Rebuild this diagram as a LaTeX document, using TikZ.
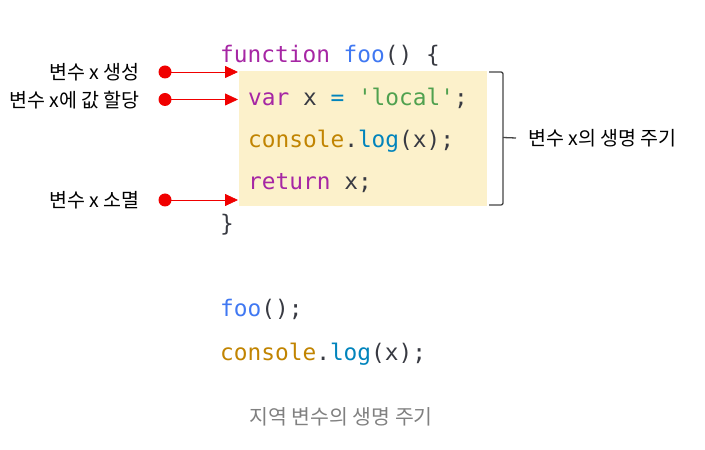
\documentclass[tikz,border=0pt]{standalone}
\usepackage{fontspec}
\newfontfamily\codefont{DejaVu Sans Mono}
\newfontfamily\kr{Noto Sans CJK KR}
\usetikzlibrary{arrows.meta}
\definecolor{kw}{HTML}{A626A4}
\definecolor{fn}{HTML}{4078F2}
\definecolor{obj}{HTML}{C18401}
\definecolor{meth}{HTML}{0184BC}
\definecolor{str}{HTML}{50A14F}
\definecolor{punc}{HTML}{383A42}
\definecolor{boxfill}{HTML}{FCF1CB}
\definecolor{arrowred}{HTML}{F00000}
\definecolor{bracegray}{HTML}{454545}
\definecolor{captiongray}{HTML}{808080}
\begin{document}
\begin{tikzpicture}[x=1bp,y=-1bp,
  codeline/.style={anchor=base west, inner sep=0pt, text=punc,
    font=\codefont\fontsize{22.8bp}{27bp}\selectfont},
  sidelabel/.style={anchor=east, inner sep=0pt, text=black,
    font=\kr\fontsize{19.5bp}{22bp}\selectfont},
  reddot/.style={circle, fill=arrowred, inner sep=0pt, minimum size=13bp},
  redarrow/.style={draw=arrowred, line width=0.8bp, -{Triangle[length=13bp,width=12bp]}},
  lifebrace/.style={draw=bracegray, line width=1.3bp, rounded corners=2bp},
]
\useasboundingbox (0,0) rectangle (705,450);

% scope box
\node[fill=boxfill, inner sep=0pt, minimum width=248bp, minimum height=134.5bp,
  anchor=north west] (scopebox) at (239,71) {};

% code
\node[codeline] (l1) at (220,63) {\textcolor{kw}{function} \textcolor{fn}{foo}() \{};
\node[codeline] (l2) at (248,106) {\textcolor{kw}{var} x \textcolor{meth}{=} \textcolor{str}{'local'};};
\node[codeline] (l3) at (248,148) {\textcolor{obj}{console}.\textcolor{meth}{log}(x);};
\node[codeline] (l4) at (248,190) {\textcolor{kw}{return} x;};
\node[codeline] (l5) at (220,232) {\}};
\node[codeline] (l6) at (220,317) {\textcolor{fn}{foo}();};
\node[codeline] (l7) at (220,360) {\textcolor{obj}{console}.\textcolor{meth}{log}(x);};

% caption
\node[anchor=base, inner sep=0pt, text=captiongray,
  font=\kr\fontsize{20.5bp}{24bp}\selectfont] (caption) at (341,424) {지역 변수의 생명 주기};

% left labels, dots and arrows
\node[sidelabel] (lab1) at (140,72) {변수 x 생성};
\node[sidelabel] (lab2) at (140,100) {변수 x에 값 할당};
\node[sidelabel] (lab3) at (140,200) {변수 x 소멸};
\node[reddot] (d1) at (165,72) {};
\node[reddot] (d2) at (165,99.5) {};
\node[reddot] (d3) at (165,200) {};
\coordinate (t1) at (238,72);
\coordinate (t2) at (238,99.5);
\coordinate (t3) at (238,200);
\draw[redarrow] (d1.center) -- (t1);
\draw[redarrow] (d2.center) -- (t2);
\draw[redarrow] (d3.center) -- (t3);

% brace
\coordinate (bt) at (489,72);
\coordinate (bb) at (489,205);
\coordinate (btip) at (516,138);
\draw[lifebrace] (bt) -- (503,72) -- (503,138) -- (503,205) -- (bb);
\draw[draw=bracegray, line width=1.3bp] (503,137.5) -- (btip);
\node[anchor=west, inner sep=0pt, text=black,
  font=\kr\fontsize{19.5bp}{22bp}\selectfont] (lifelabel) at (528,138) {변수 x의 생명 주기};
\end{tikzpicture}
\end{document}
